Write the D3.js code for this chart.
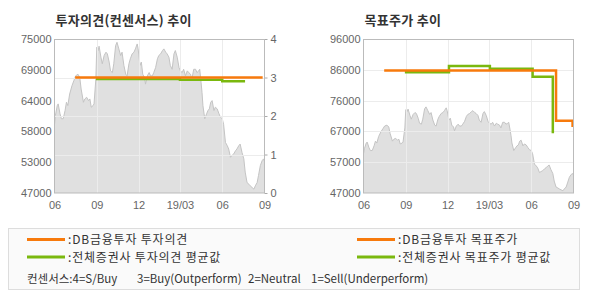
<!DOCTYPE html>
<html><head><meta charset="utf-8">
<script src="https://cdn.jsdelivr.net/npm/d3@7"></script>
<style>body{margin:0;background:#fff}svg{display:block}</style>
</head><body>
<svg id="c" width="590" height="300"></svg>
<script>
// ---------- data ----------
const priceDates = ["2018-06-01","2018-06-03","2018-06-07","2018-06-09","2018-06-13","2018-06-16","2018-06-20","2018-06-24","2018-06-27","2018-06-30",
"2018-07-04","2018-07-09","2018-07-13","2018-07-17","2018-07-22","2018-07-26","2018-07-29","2018-08-03","2018-08-06","2018-08-10",
"2018-08-14","2018-08-17","2018-08-20","2018-08-24","2018-08-26","2018-08-30","2018-09-01","2018-09-04","2018-09-06","2018-09-10",
"2018-09-13","2018-09-17","2018-09-21","2018-09-24","2018-09-28","2018-10-01","2018-10-05","2018-10-08","2018-10-12","2018-10-15",
"2018-10-19","2018-10-23","2018-10-26","2018-10-30","2018-11-03","2018-11-06","2018-11-10","2018-11-13","2018-11-17","2018-11-21",
"2018-11-24","2018-11-28","2018-11-30","2018-12-04","2018-12-07","2018-12-10","2018-12-14","2018-12-16","2018-12-20","2018-12-24",
"2018-12-27","2018-12-31","2019-01-03","2019-01-07","2019-01-11","2019-01-14","2019-01-18","2019-01-22","2019-01-25","2019-01-29",
"2019-02-01","2019-02-05","2019-02-08","2019-02-12","2019-02-16","2019-02-19","2019-02-23","2019-02-27","2019-03-02","2019-03-06",
"2019-03-09","2019-03-13","2019-03-17","2019-03-20","2019-03-24","2019-03-27","2019-03-31","2019-04-04","2019-04-07","2019-04-11",
"2019-04-13","2019-04-16","2019-04-18","2019-04-20","2019-04-24","2019-04-28","2019-05-01","2019-05-04","2019-05-07","2019-05-10",
"2019-05-14","2019-05-17","2019-05-21","2019-05-25","2019-05-28","2019-06-01","2019-06-04","2019-06-08","2019-06-12","2019-06-15",
"2019-06-19","2019-06-22","2019-06-26","2019-06-30","2019-07-03","2019-07-07","2019-07-10","2019-07-14","2019-07-18","2019-07-21",
"2019-07-25","2019-07-29","2019-08-01","2019-08-05","2019-08-09","2019-08-12","2019-08-16","2019-08-19","2019-08-23","2019-08-27",
"2019-08-30","2019-09-01"];
const priceValues = [59500,61100,62900,63200,61400,60500,60500,62000,63500,62900,
65000,66500,67400,68300,68600,68000,65900,63500,64100,64400,
63800,64100,62600,62900,63200,67700,73500,72900,73700,71700,
70500,72000,72600,72300,70800,69200,68900,70500,73800,74400,
73200,72000,72600,70200,68600,68300,70500,71400,72300,72600,
73200,74100,73200,70200,70800,68600,68000,66800,68300,68900,
68300,68300,68900,69800,71400,72000,72300,72900,73200,72600,
72300,71700,70200,69500,72300,72900,71700,69800,69200,68900,
69500,68300,69200,68900,68600,67700,69500,69500,68900,69200,
69500,67100,65300,62900,60500,61400,62000,62300,63500,63800,
62000,62600,62300,61400,60800,60500,59500,56200,55600,55000,
53500,53800,54100,54700,55000,55600,55900,54400,53200,50800,
48900,48600,48300,48000,47700,48300,48900,50200,52000,52900,
53200,52700];

// 투자의견 (consensus)
const dbOpinionDates = ["2018-07-16","2019-08-28"];
const dbOpinionValues = [3, 3];
const avgOpinionDates = ["2018-08-30","2019-03-01","2019-06-01","2019-07-18"];
const avgOpinionValues = [2.96, 2.94, 2.90, 2.87];

// 목표주가 (target price)
const dbTargetDates = ["2018-07-16","2019-07-25","2019-08-30"];
const dbTargetValues = [86000, 70000, 68000];
const avgTargetDates = ["2018-08-30","2018-12-04","2019-03-03","2019-06-04","2019-07-18"];
const avgTargetValues = [85400, 87400, 86500, 84000, 66000];

// axes
const xTickDates = ["2018-06-01","2018-09-01","2018-12-01","2019-03-01","2019-06-01","2019-09-01"];
const xTickLabels = ["06","09","12","19/03","06","09"];
const leftPriceTickLabels = ["47000","53000","58000","64000","69000","75000"];
const opinionTickLabels = ["0","1","2","3","4"];
const targetTickLabels = ["47000","57000","67000","76000","86000","96000"];

const titles = ["투자의견(컨센서스) 추이", "목표주가 추이"];
const legendLeft = [":DB금융투자 투자의견", ":전체증권사 투자의견 평균값"];
const legendRight = [":DB금융투자 목표주가", ":전체증권사 목표주가 평균값"];
const consensusNotes = ["컨센서스:4=S/Buy", "3=Buy(Outperform)", "2=Neutral", "1=Sell(Underperform)"];

// ---------- drawing ----------
const parse = d3.timeParse("%Y-%m-%d");
const zip = (ds, vs) => ds.map((d, i) => ({date: parse(d), value: vs[i]}));
const price = zip(priceDates, priceValues);
const ORANGE = "#f77a0c", GREEN = "#7ab80e";
const svg = d3.select("#c");
const KR = "'Noto Sans CJK KR', sans-serif";
const NUM = "'Liberation Sans', Arial, sans-serif";

const xDomain = [parse(xTickDates[0]), parse(xTickDates[xTickDates.length - 1])];
const tickDates = xTickDates.map(parse);
const plotTop = 39, plotBottom = 193;

function panel(x0, x1, yMin, yMax, priceLabels, title) {
  const g = svg.append("g");
  const x = d3.scaleTime().domain(xDomain).range([x0, x1]);
  const y = d3.scaleLinear().domain([yMin, yMax]).range([plotBottom, plotTop]);
  const divs = d3.range(6).map(i => yMin + i * (yMax - yMin) / 5);

  g.append("text").attr("x", x0 + 1).attr("y", 25).text(title)
    .attr("font-family", KR).attr("font-size", 13).attr("font-weight", "bold")
    .attr("letter-spacing", 0.3).attr("fill", "#333");

  g.append("rect").attr("x", x0).attr("y", plotTop).attr("width", x1 - x0).attr("height", plotBottom - plotTop).attr("fill", "#fff");

  const area = d3.area().x(d => x(d.date)).y0(plotBottom).y1(d => y(d.value));
  g.append("path").datum(price).attr("d", area).attr("fill", "#e0e0e0");
  g.append("path").datum(price).attr("d", d3.line().x(d => x(d.date)).y(d => y(d.value)))
    .attr("fill", "none").attr("stroke", "#c4c4c4").attr("stroke-width", 1);

  // vertical grid
  g.selectAll(".vg").data(tickDates.slice(1, -1)).join("line")
    .attr("x1", d => Math.round(x(d)) + 0.5).attr("x2", d => Math.round(x(d)) + 0.5)
    .attr("y1", plotTop).attr("y2", plotBottom).attr("stroke", "#ececec").attr("stroke-width", 1);

  // x axis
  const xa = g.append("g").attr("transform", `translate(0,${plotBottom})`)
    .call(d3.axisBottom(x).tickValues(tickDates).tickFormat((d, i) => xTickLabels[i]).tickSize(0).tickPadding(8));
  xa.select(".domain").remove();
  xa.selectAll("text").attr("font-family", NUM).attr("font-size", 11).attr("fill", "#666");

  // left axis
  const ya = g.append("g").attr("transform", `translate(${x0},0)`)
    .call(d3.axisLeft(y).tickValues(divs).tickFormat((d, i) => priceLabels[i]).tickSize(0).tickPadding(3));
  ya.select(".domain").remove();
  ya.selectAll("text").attr("font-family", NUM).attr("font-size", 11).attr("fill", "#666");

  return {g, x, y, divs};
}

// ---- left panel ----
const L = panel(54.5, 264.5, 47000, 75000, leftPriceTickLabels, titles[0]);
const yOp = d3.scaleLinear().domain([0, 4]).range([plotBottom, plotTop]);
L.g.selectAll(".hg").data([1, 2, 3]).join("line")
  .attr("x1", 54.5).attr("x2", 264.5).attr("y1", d => Math.round(yOp(d)) + 0.5).attr("y2", d => Math.round(yOp(d)) + 0.5)
  .attr("stroke", "#ececec");
const ra = L.g.append("g").attr("transform", "translate(264.5,0)")
  .call(d3.axisRight(yOp).tickValues([0, 1, 2, 3, 4]).tickFormat((d, i) => opinionTickLabels[i]).tickSize(3).tickPadding(3));
ra.select(".domain").remove();
ra.selectAll("line").attr("stroke", "#aaa");
ra.selectAll("text").attr("font-family", NUM).attr("font-size", 11).attr("fill", "#666");

const stepLine = (x, y) => d3.line().curve(d3.curveStepAfter).x(d => x(d.date)).y(d => y(d.value));
L.g.append("path").datum(zip(avgOpinionDates, avgOpinionValues)).attr("d", stepLine(L.x, yOp))
  .attr("fill", "none").attr("stroke", GREEN).attr("stroke-width", 2.5);
L.g.append("path").datum(zip(dbOpinionDates, dbOpinionValues)).attr("d", stepLine(L.x, yOp))
  .attr("fill", "none").attr("stroke", ORANGE).attr("stroke-width", 2.5);
L.g.append("rect").attr("x", 54.5).attr("y", plotTop + 0.5).attr("width", 210).attr("height", plotBottom - plotTop - 0.5)
  .attr("fill", "none").attr("stroke", "#bbb");

// ---- right panel ----
const R = panel(363.5, 573.5, 47000, 96000, targetTickLabels, titles[1]);
R.g.selectAll(".hg").data(R.divs.slice(1, -1)).join("line")
  .attr("x1", 363.5).attr("x2", 573.5).attr("y1", d => Math.round(R.y(d)) + 0.5).attr("y2", d => Math.round(R.y(d)) + 0.5)
  .attr("stroke", "#ececec");
R.g.append("path").datum(zip(avgTargetDates, avgTargetValues)).attr("d", stepLine(R.x, R.y))
  .attr("fill", "none").attr("stroke", GREEN).attr("stroke-width", 2.5);
R.g.append("path").datum(zip(dbTargetDates, dbTargetValues)).attr("d", stepLine(R.x, R.y))
  .attr("fill", "none").attr("stroke", ORANGE).attr("stroke-width", 2.5);
R.g.append("rect").attr("x", 363.5).attr("y", plotTop + 0.5).attr("width", 210).attr("height", plotBottom - plotTop - 0.5)
  .attr("fill", "none").attr("stroke", "#bbb");

// ---- legend ----
const lg = svg.append("g");
lg.append("rect").attr("x", 8.5).attr("y", 228.5).attr("width", 571).attr("height", 61)
  .attr("fill", "#fafafa").attr("stroke", "#ddd");
function legendItem(x, y, color, label) {
  lg.append("line").attr("x1", x).attr("x2", x + 38).attr("y1", y).attr("y2", y)
    .attr("stroke", color).attr("stroke-width", 3);
  lg.append("text").attr("x", x + 41).attr("y", y + 4.5).text(label)
    .attr("font-family", KR).attr("font-size", 12).attr("letter-spacing", 0.8).attr("fill", "#333");
}
legendItem(27, 239.5, ORANGE, legendLeft[0]);
legendItem(27, 257, GREEN, legendLeft[1]);
legendItem(357, 239.5, ORANGE, legendRight[0]);
legendItem(357, 257, GREEN, legendRight[1]);
const noteX = [27, 137, 248, 311];
lg.selectAll(".note").data(consensusNotes).join("text")
  .attr("x", (d, i) => noteX[i]).attr("y", 283).text(d => d)
  .attr("font-family", KR).attr("font-size", 11.5).attr("fill", "#333");
</script>
</body></html>
